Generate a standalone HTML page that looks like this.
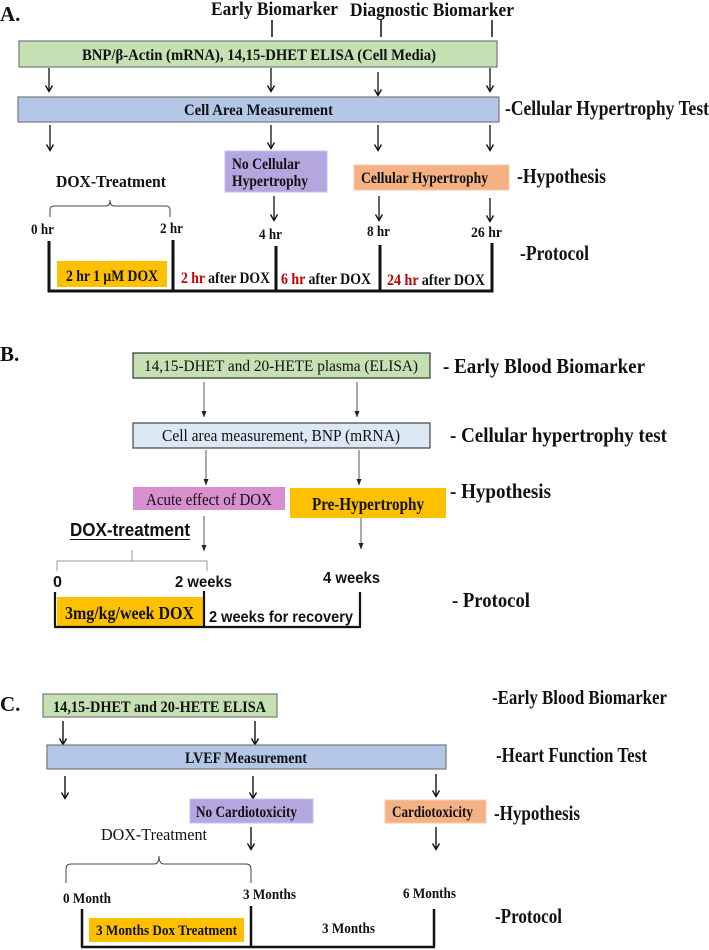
<!DOCTYPE html>
<html><head><meta charset="utf-8"><style>
html,body{margin:0;padding:0;background:#fff;}
svg{display:block;}
text{font-family:"Liberation Serif",serif;font-weight:bold;fill:#111;}
.s{font-family:"Liberation Sans",sans-serif;}
.n{font-weight:normal;}
</style></head><body>
<svg width="709" height="950" viewBox="0 0 709 950" xmlns="http://www.w3.org/2000/svg">
<defs>
<marker id="ah" markerWidth="10" markerHeight="10" refX="4" refY="8" orient="0" markerUnits="userSpaceOnUse">
<path d="M0.5,2.5 L4,8.5 L7.5,2.5" fill="none" stroke="#111" stroke-width="1.4"/>
</marker>
<marker id="tri" markerWidth="6" markerHeight="7" refX="3" refY="6" orient="0" markerUnits="userSpaceOnUse">
<path d="M0.5,0 L3,6.5 L5.5,0 Z" fill="#222"/>
</marker>
</defs>

<!-- ===== A ===== -->
<text x="0" y="21" font-size="21">A.</text>
<text x="211" y="15" font-size="19" textLength="127" lengthAdjust="spacingAndGlyphs">Early Biomarker</text>
<text x="350" y="16" font-size="19" textLength="164" lengthAdjust="spacingAndGlyphs">Diagnostic Biomarker</text>
<g stroke="#111" stroke-width="1.5">
<line x1="272" y1="20" x2="272" y2="37"/><line x1="381" y1="20" x2="381" y2="37"/><line x1="492" y1="20" x2="492" y2="37"/>
</g>
<rect x="19" y="41" width="478" height="26" fill="#c5e0b3" stroke="#777" stroke-width="1.2"/>
<text x="82" y="60" font-size="16" textLength="354" lengthAdjust="spacingAndGlyphs">BNP/β-Actin (mRNA), 14,15-DHET ELISA (Cell Media)</text>
<g stroke="#111" stroke-width="1.3" marker-end="url(#ah)">
<line x1="49" y1="68" x2="49" y2="91"/><line x1="271" y1="68" x2="271" y2="91"/><line x1="378" y1="72" x2="378" y2="95"/><line x1="490" y1="68" x2="490" y2="91"/>
<line x1="50" y1="125" x2="50" y2="150"/><line x1="271" y1="125" x2="271" y2="148"/><line x1="378" y1="125" x2="378" y2="150"/><line x1="490" y1="125" x2="490" y2="150"/>
<line x1="274" y1="196" x2="274" y2="220"/><line x1="379" y1="196" x2="379" y2="220"/><line x1="490" y1="198" x2="490" y2="221"/>
</g>
<rect x="18" y="97" width="481" height="25" fill="#b4c7e7" stroke="#777" stroke-width="1.2"/>
<text x="184" y="115" font-size="16" textLength="149" lengthAdjust="spacingAndGlyphs">Cell Area Measurement</text>
<text x="505" y="115" font-size="21" textLength="204" lengthAdjust="spacingAndGlyphs">-Cellular Hypertrophy Test</text>
<rect x="225" y="151" width="102" height="41" fill="#b4a7e0" stroke="#c9bff0" stroke-width="1"/>
<text x="232" y="169" font-size="16" textLength="68" lengthAdjust="spacingAndGlyphs">No Cellular</text>
<text x="232" y="186" font-size="16" textLength="76" lengthAdjust="spacingAndGlyphs">Hypertrophy</text>
<rect x="354" y="165" width="155" height="25" fill="#f4b183" stroke="#f8cbad" stroke-width="1"/>
<text x="361" y="183" font-size="16" textLength="127" lengthAdjust="spacingAndGlyphs">Cellular Hypertrophy</text>
<text x="517" y="183" font-size="21" textLength="89" lengthAdjust="spacingAndGlyphs">-Hypothesis</text>
<text x="56" y="187" font-size="17" textLength="110" lengthAdjust="spacingAndGlyphs">DOX-Treatment</text>
<path d="M50,217 L50,210 Q50,206 54,206 L106,206 Q110,206 110,200 Q110,206 114,206 L166,206 Q170,206 170,210 L170,217" fill="none" stroke="#444" stroke-width="1"/>
<text x="31" y="234" font-size="15" textLength="23" lengthAdjust="spacingAndGlyphs">0 hr</text>
<text x="160" y="233" font-size="15" textLength="23" lengthAdjust="spacingAndGlyphs">2 hr</text>
<text x="259" y="239" font-size="15" textLength="23" lengthAdjust="spacingAndGlyphs">4 hr</text>
<text x="367" y="236" font-size="15" textLength="23" lengthAdjust="spacingAndGlyphs">8 hr</text>
<text x="471" y="237" font-size="15" textLength="31" lengthAdjust="spacingAndGlyphs">26 hr</text>
<text x="520" y="260" font-size="21" textLength="69" lengthAdjust="spacingAndGlyphs">-Protocol</text>
<rect x="57" y="261" width="110" height="26" fill="#ffc000"/>
<text x="66" y="281" font-size="16" textLength="92" lengthAdjust="spacingAndGlyphs">2 hr 1 μM DOX</text>
<g stroke="#111" stroke-width="3" fill="none">
<line x1="49" y1="241" x2="49" y2="291"/><line x1="173" y1="240" x2="173" y2="291"/><line x1="276" y1="246" x2="276" y2="291"/><line x1="380" y1="245" x2="380" y2="291"/><line x1="492" y1="243" x2="492" y2="292"/>
<line x1="47.5" y1="291" x2="493.5" y2="291"/>
</g>
<text x="181" y="283" font-size="16" textLength="89" lengthAdjust="spacingAndGlyphs"><tspan fill="#c00000">2 hr</tspan> after DOX</text>
<text x="281" y="284" font-size="16" textLength="90" lengthAdjust="spacingAndGlyphs"><tspan fill="#c00000">6 hr</tspan> after DOX</text>
<text x="387" y="285" font-size="16" textLength="98" lengthAdjust="spacingAndGlyphs"><tspan fill="#c00000">24 hr</tspan> after DOX</text>

<!-- ===== B ===== -->
<text x="0" y="361" font-size="21">B.</text>
<rect x="133" y="353" width="297" height="25" fill="#c5e0b3" stroke="#333" stroke-width="1.2"/>
<text x="144" y="371" font-size="16" class="n" textLength="274" lengthAdjust="spacingAndGlyphs">14,15-DHET and 20-HETE plasma (ELISA)</text>
<text x="443" y="373" font-size="21" textLength="202" lengthAdjust="spacingAndGlyphs">- Early Blood Biomarker</text>
<g stroke="#444" stroke-width="0.9" marker-end="url(#tri)">
<line x1="204" y1="382" x2="204" y2="417"/><line x1="357" y1="382" x2="357" y2="417"/>
<line x1="206" y1="450" x2="206" y2="485"/><line x1="359" y1="450" x2="359" y2="485"/>
<line x1="204" y1="516" x2="204" y2="551"/><line x1="361" y1="518" x2="361" y2="549"/>
</g>
<rect x="133" y="423" width="297" height="25" fill="#dde8f5" stroke="#444" stroke-width="1.2"/>
<text x="162" y="441" font-size="17" class="n" textLength="238" lengthAdjust="spacingAndGlyphs">Cell area measurement, BNP (mRNA)</text>
<text x="450" y="442" font-size="21" textLength="217" lengthAdjust="spacingAndGlyphs">- Cellular hypertrophy test</text>
<rect x="133" y="487" width="152" height="23" fill="#d88fcf"/>
<text x="146" y="505" font-size="17" class="n" textLength="126" lengthAdjust="spacingAndGlyphs">Acute effect of DOX</text>
<rect x="290" y="488" width="156" height="30" fill="#ffc000"/>
<text x="312" y="510" font-size="18" textLength="112" lengthAdjust="spacingAndGlyphs">Pre-Hypertrophy</text>
<text x="450" y="498" font-size="21" textLength="101" lengthAdjust="spacingAndGlyphs">- Hypothesis</text>
<text x="70" y="536" font-size="18" class="s" textLength="120" lengthAdjust="spacingAndGlyphs">DOX-treatment</text>
<line x1="70" y1="539.5" x2="190" y2="539.5" stroke="#111" stroke-width="1"/>
<path d="M57,571 L57,561 L207,561 L207,571 M132,550 L132,561" fill="none" stroke="#999" stroke-width="1"/>
<text x="53" y="587" font-size="16" class="s" textLength="9" lengthAdjust="spacingAndGlyphs">0</text>
<text x="175" y="587" font-size="16" class="s" textLength="57" lengthAdjust="spacingAndGlyphs">2 weeks</text>
<text x="323" y="583" font-size="16" class="s" textLength="57" lengthAdjust="spacingAndGlyphs">4 weeks</text>
<text x="452" y="607" font-size="21" textLength="78" lengthAdjust="spacingAndGlyphs">- Protocol</text>
<rect x="57" y="597" width="146" height="29" fill="#ffc000"/>
<text x="65" y="619" font-size="18" textLength="129" lengthAdjust="spacingAndGlyphs">3mg/kg/week  DOX</text>
<text x="209" y="622" font-size="16" class="s" textLength="144" lengthAdjust="spacingAndGlyphs">2 weeks for recovery</text>
<g stroke="#111" stroke-width="2.2" fill="none">
<line x1="55" y1="592" x2="55" y2="627"/><line x1="204" y1="591" x2="204" y2="627"/><line x1="360" y1="592" x2="360" y2="627"/>
<line x1="54" y1="627" x2="361" y2="627"/>
</g>

<!-- ===== C ===== -->
<text x="0" y="711" font-size="21">C.</text>
<rect x="43" y="694" width="234" height="23" fill="#c5e0b3" stroke="#777" stroke-width="1.2"/>
<text x="53" y="712" font-size="16" textLength="213" lengthAdjust="spacingAndGlyphs">14,15-DHET and 20-HETE  ELISA</text>
<text x="492" y="704" font-size="20" textLength="175" lengthAdjust="spacingAndGlyphs">-Early Blood Biomarker</text>
<g stroke="#111" stroke-width="1.4" marker-end="url(#ah)">
<line x1="63" y1="721" x2="63" y2="744"/><line x1="255" y1="721" x2="255" y2="744"/>
<line x1="65" y1="776" x2="65" y2="798"/><line x1="253" y1="776" x2="253" y2="798"/><line x1="436" y1="774" x2="436" y2="796"/>
<line x1="251" y1="827" x2="251" y2="849"/><line x1="436" y1="827" x2="436" y2="849"/>
</g>
<rect x="47" y="745" width="399" height="24" fill="#b4c7e7" stroke="#777" stroke-width="1.2"/>
<text x="185" y="763" font-size="16" textLength="122" lengthAdjust="spacingAndGlyphs">LVEF Measurement</text>
<text x="496" y="762" font-size="21" textLength="151" lengthAdjust="spacingAndGlyphs">-Heart Function Test</text>
<rect x="190" y="799" width="123" height="24" fill="#b4a7e0" stroke="#c9bff0" stroke-width="1"/>
<text x="196" y="817" font-size="16" textLength="101" lengthAdjust="spacingAndGlyphs">No Cardiotoxicity</text>
<rect x="385" y="800" width="101" height="23" fill="#f4b183" stroke="#f8cbad" stroke-width="1"/>
<text x="392" y="817" font-size="16" textLength="81" lengthAdjust="spacingAndGlyphs">Cardiotoxicity</text>
<text x="494" y="820" font-size="21" textLength="86" lengthAdjust="spacingAndGlyphs">-Hypothesis</text>
<text x="101" y="840" font-size="17" class="n" textLength="106" lengthAdjust="spacingAndGlyphs">DOX-Treatment</text>
<path d="M66,883 L66,869 Q66,864 71,864 L154,864 Q159,864 159,856 Q159,864 164,864 L246,864 Q251,864 251,869 L251,883" fill="none" stroke="#444" stroke-width="1"/>
<text x="63" y="903" font-size="15" textLength="48" lengthAdjust="spacingAndGlyphs">0 Month</text>
<text x="243" y="899" font-size="15" textLength="53" lengthAdjust="spacingAndGlyphs">3 Months</text>
<text x="403" y="898" font-size="15" textLength="53" lengthAdjust="spacingAndGlyphs">6 Months</text>
<text x="495" y="923" font-size="21" textLength="67" lengthAdjust="spacingAndGlyphs">-Protocol</text>
<rect x="89" y="918" width="155" height="24" fill="#ffc000"/>
<text x="96" y="935" font-size="15" textLength="141" lengthAdjust="spacingAndGlyphs">3 Months Dox Treatment</text>
<text x="322" y="933" font-size="15" textLength="53" lengthAdjust="spacingAndGlyphs">3 Months</text>
<g stroke="#111" stroke-width="2.5" fill="none">
<line x1="82" y1="909" x2="82" y2="947"/><line x1="251" y1="906" x2="251" y2="947"/><line x1="434" y1="909" x2="434" y2="947"/>
<line x1="81" y1="947" x2="435" y2="947"/>
</g>
</svg>
</body></html>
